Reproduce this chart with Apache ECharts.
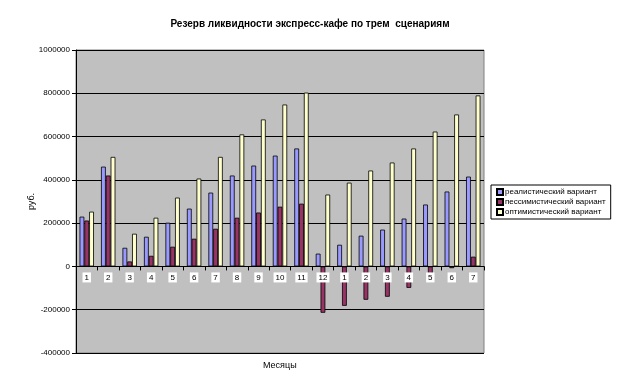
<!DOCTYPE html>
<html><head><meta charset="utf-8">
<script src="https://cdn.jsdelivr.net/npm/echarts@6/dist/echarts.min.js"></script>
<style>html,body{margin:0;padding:0;background:#fff}#c{width:620px;height:386px}</style>
</head><body><div id="c"></div>
<script>
var titleText = 'Резерв ликвидности экспресс-кафе по трем  сценариям';
var xAxisTitle = 'Месяцы';
var yAxisTitle = 'руб.';
var categories = ['1','2','3','4','5','6','7','8','9','10','11','12','1','2','3','4','5','6','7'];
var seriesNames = ['реалистический вариант','пессимистический вариант','оптимистический вариант'];
var realistic = [230000,461000,86000,137000,202000,267000,341000,420000,466000,512000,545000,59000,100000,142000,170000,221000,286000,346000,415000];
var pessimistic = [212000,420000,23000,49000,91000,128000,174000,225000,249000,276000,290000,-214000,-182000,-154000,-140000,-99000,-40000,-8000,45000];
var optimistic = [253000,506000,151000,225000,318000,406000,506000,610000,679000,748000,803000,332000,387000,443000,480000,545000,623000,702000,790000];
var yMin = -400000, yMax = 1000000, yStep = 200000;
var colors = ['#9999FF','#993366','#FFFFCC'];
var font = 'Liberation Sans, Arial, sans-serif';

var gridTop = 50, gridBottom = 33, H = 386;
var plotH = H - gridTop - gridBottom;
var zeroOffset = -plotH * (0 - yMin) / (yMax - yMin);

var chart = echarts.init(document.getElementById('c'), null, {renderer:'canvas'});
function mk(name, data, color){
  return {name:name, type:'bar', data:data, barGap:'0%', barCategoryGap:'33%',
    itemStyle:{color:color, borderColor:'#000', borderWidth:0.8}};
}
chart.setOption({
  animation:false,
  textStyle:{fontFamily:font},
  title:{text:titleText, left:'center', top:14,
    textStyle:{fontSize:10, fontWeight:'bold', color:'#000', fontFamily:font}},
  legend:{orient:'vertical', left:491, top:185, padding:[3,5], itemGap:2,
    itemWidth:6, itemHeight:6, borderColor:'#000', borderWidth:1, backgroundColor:'#fff',
    icon:'rect', textStyle:{fontSize:8, color:'#000', fontFamily:font, padding:[0,0,0,-3]},
    data:seriesNames},
  graphic:[{type:'text', left:263, top:361, style:{text:xAxisTitle, fontSize:9, fill:'#000', font:'9px '+font}}],
  grid:{left:76, right:136, top:gridTop, bottom:gridBottom, show:true, backgroundColor:'#C0C0C0',
    borderColor:'#808080', borderWidth:1, containLabel:false, outerBoundsMode:'none'},
  xAxis:{type:'category', data:categories, z:10, position:'bottom', offset:zeroOffset,
    axisLine:{onZero:false, lineStyle:{color:'#000', width:1}},
    axisTick:{show:true, length:4, lineStyle:{color:'#000'}},
    axisLabel:{fontSize:8, color:'#000', backgroundColor:'#fff', padding:[1,2,1,2], margin:6, interval:0},
    splitLine:{show:false}},
  yAxis:{type:'value', min:yMin, max:yMax, interval:yStep,
    name:yAxisTitle, nameLocation:'middle', nameGap:40, nameRotate:90, nameMoveOverlap:false,
    nameTextStyle:{fontSize:9, color:'#000', fontFamily:font},
    axisLine:{show:true, lineStyle:{color:'#000', width:1}},
    axisTick:{show:true, length:4, lineStyle:{color:'#000'}},
    axisLabel:{fontSize:8, color:'#000', margin:6, formatter:function(v){return String(v);}},
    splitLine:{show:true, lineStyle:{color:'#000', width:1}}},
  series:[mk(seriesNames[0], realistic, colors[0]), mk(seriesNames[1], pessimistic, colors[1]), mk(seriesNames[2], optimistic, colors[2])]
});
</script></body></html>
